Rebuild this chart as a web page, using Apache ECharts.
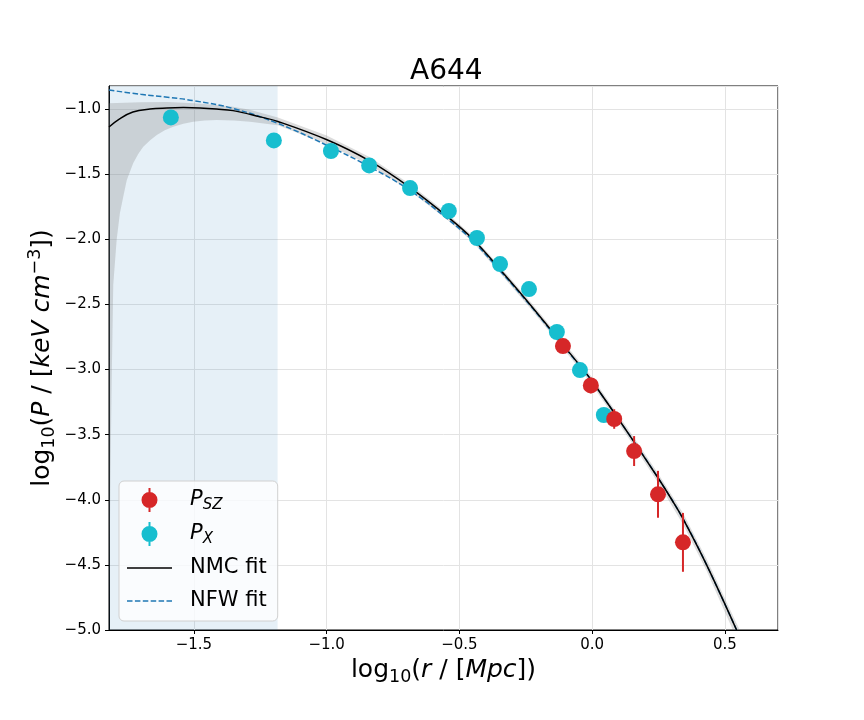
<!DOCTYPE html>
<html><head><meta charset="utf-8">
<script src="https://cdn.jsdelivr.net/npm/echarts@6/dist/echarts.min.js"></script>
<style>html,body{margin:0;padding:0;background:#fff}#c{width:864px;height:720px}</style>
</head><body><div id="c"></div>
<script>
// ---- data ----
const pxX = [-1.587,-1.199,-0.984,-0.840,-0.686,-0.540,-0.434,-0.347,-0.238,-0.133,-0.046,0.044];
const pxY = [-1.064,-1.241,-1.322,-1.433,-1.607,-1.783,-1.990,-2.190,-2.382,-2.712,-3.004,-3.349];

const szX = [-0.110,-0.005,0.083,0.158,0.248,0.342];
const szY = [-2.820,-3.122,-3.380,-3.626,-3.958,-4.327];
const szErr = [0.05,0.06,0.075,0.115,0.18,0.226];

const nmcX = [-1.820,-1.780,-1.730,-1.666,-1.602,-1.540,-1.477,-1.415,-1.353,-1.251,-1.184,-0.999,-0.837,-0.686,-0.540,-0.449,-0.347,-0.234,-0.147,-0.034,0.000,0.136,0.249,0.300,0.342,0.431,0.544];
const nmcY = [-1.138,-1.075,-1.023,-1.000,-0.992,-0.989,-0.992,-1.000,-1.012,-1.060,-1.095,-1.236,-1.400,-1.603,-1.835,-2.000,-2.232,-2.500,-2.718,-3.000,-3.090,-3.490,-3.835,-4.000,-4.145,-4.500,-5.000];

const nfwX = [-1.820,-1.700,-1.600,-1.500,-1.353,-1.184,-1.000,-0.841,-0.686,-0.540,-0.449,-0.347,-0.234,-0.147,-0.034,0.000,0.136,0.249,0.342,0.431,0.544];
const nfwY = [-0.854,-0.887,-0.909,-0.936,-0.995,-1.110,-1.278,-1.440,-1.625,-1.852,-2.013,-2.242,-2.507,-2.724,-3.003,-3.092,-3.490,-3.835,-4.145,-4.500,-5.000];

const bandUpX = [-1.820,-1.700,-1.600,-1.500,-1.415,-1.353,-1.290,-1.184,-1.000,-0.837,-0.686,-0.540,-0.449,-0.347,-0.234,-0.147,-0.034,0.000,0.136,0.249,0.342,0.431,0.544,0.556];
const bandUp  = [-0.955,-0.948,-0.946,-0.955,-0.968,-0.983,-1.005,-1.064,-1.203,-1.370,-1.578,-1.811,-1.977,-2.208,-2.475,-2.693,-2.973,-3.062,-3.458,-3.800,-4.102,-4.455,-4.950,-5.000];
const bandLoX = [-1.820,-1.815,-1.810,-1.804,-1.791,-1.779,-1.765,-1.753,-1.729,-1.710,-1.691,-1.665,-1.640,-1.610,-1.578,-1.540,-1.503,-1.460,-1.415,-1.350,-1.289,-1.184,-1.000,-0.837,-0.686,-0.540,-0.449,-0.347,-0.234,-0.147,-0.034,0.000,0.136,0.249,0.342,0.431,0.530];
const bandLo  = [-5.000,-3.900,-3.100,-2.350,-2.000,-1.800,-1.660,-1.545,-1.417,-1.345,-1.289,-1.240,-1.200,-1.163,-1.136,-1.113,-1.097,-1.088,-1.084,-1.087,-1.097,-1.125,-1.270,-1.430,-1.630,-1.860,-2.023,-2.258,-2.527,-2.744,-3.028,-3.118,-3.522,-3.872,-4.188,-4.545,-5.000];

const shadeRange = [-1.820, -1.185];
const xRange = [-1.820, 0.700];
const yRange = [-5.0, -0.823];
const legendNames = ['P_SZ','P_X','NMC fit','NFW fit'];
const titleText = 'A644';

// ---- chart ----
const FONT = 'DejaVu Sans';
const fmt = v => v.toFixed(1).replace('-', '\u2212');
const markerIcon = 'path://M0,0M45,24M21.5,0h2v24h-2zM22.5,4a8,8 0 1,1 -0.01,0z';
const solidIcon = 'path://M0,0M45,24M0,11.25h45v1.5h-45z';
const dashedIcon = 'path://M0,0M45,24M0,11.25h5.5v1.5h-5.5zM7.9,11.25h5.5v1.5h-5.5zM15.8,11.25h5.5v1.5h-5.5zM23.7,11.25h5.5v1.5h-5.5zM31.6,11.25h5.5v1.5h-5.5zM39.5,11.25h5.5v1.5h-5.5z';

const chart = echarts.init(document.getElementById('c'), null, {renderer: 'canvas'});
const rich25 = {
  n: {fontFamily: FONT, fontSize: 25, lineHeight: 32, color: '#000'},
  i: {fontFamily: FONT, fontSize: 25, lineHeight: 32, fontStyle: 'italic', color: '#000'},
  s: {fontFamily: FONT, fontSize: 17.5, lineHeight: 18, verticalAlign: 'bottom', color: '#000'},
  p: {fontFamily: FONT, fontSize: 17.5, lineHeight: 18, verticalAlign: 'top', color: '#000'}
};
const option = {
  animation: false,
  backgroundColor: '#ffffff',
  title: {
    text: titleText, left: 405, top: 53,
    textStyle: {fontFamily: FONT, fontSize: 28, fontWeight: 'normal', color: '#000'}
  },
  grid: {left: 109, right: 86, top: 86, bottom: 90, show: true, borderColor: '#000', borderWidth: 1, backgroundColor: 'transparent'},
  xAxis: {
    type: 'value', min: xRange[0], max: xRange[1], splitNumber: 5,
    axisLine: {show: true, onZero: false, lineStyle: {color: '#000', width: 1}},
    axisTick: {show: true, inside: false, length: 4, lineStyle: {color: '#000'}},
    axisLabel: {margin: 8, showMinLabel: false, showMaxLabel: false, formatter: fmt, fontFamily: FONT, fontSize: 15, color: '#000'},
    splitLine: {show: true, lineStyle: {color: '#e3e3e3', width: 1}},
    name: '{n|log}{s|10}{n|(}{i|r}{n| / [}{i|Mpc}{n|])}',
    nameLocation: 'middle', nameGap: 22,
    nameTextStyle: {fontFamily: FONT, fontSize: 25, color: '#000', rich: rich25}
  },
  yAxis: {
    type: 'value', min: yRange[0], max: yRange[1], interval: 0.5,
    axisLine: {show: true, onZero: false, lineStyle: {color: '#000', width: 1}},
    axisTick: {show: true, inside: false, length: 4, lineStyle: {color: '#000'}},
    axisLabel: {margin: 8, showMaxLabel: false, formatter: fmt, fontFamily: FONT, fontSize: 15, color: '#000'},
    splitLine: {show: true, lineStyle: {color: '#e3e3e3', width: 1}},
    name: '{n|log}{s|10}{n|(}{i|P}{n| / [}{i|keV cm}{p|\u22123}{n|])}',
    nameLocation: 'middle', nameGap: 51, nameMoveOverlap: false,
    nameTextStyle: {fontFamily: FONT, fontSize: 25, color: '#000', rich: rich25}
  },
  legend: {
    orient: 'vertical', left: 119, top: 481,
    data: [
      {name: legendNames[0], icon: markerIcon},
      {name: legendNames[1], icon: markerIcon},
      {name: legendNames[2], icon: solidIcon},
      {name: legendNames[3], icon: dashedIcon}
    ],
    selectedMode: false,
    itemWidth: 45, itemHeight: 24, itemGap: 9,
    padding: [7, 11, 8, 8],
    backgroundColor: 'rgba(255,255,255,0.8)',
    borderColor: '#d0d0d0', borderWidth: 1, borderRadius: 5,
    formatter: function (name) {
      if (name === 'P_SZ') return '{i|P}{s|SZ}';
      if (name === 'P_X') return '{i|P}{s|X}';
      return '{n|' + name + '}';
    },
    textStyle: {
      fontFamily: FONT, fontSize: 21, color: '#000', padding: [0, 0, 0, 13],
      rich: {
        n: {fontFamily: FONT, fontSize: 21, lineHeight: 26, color: '#000'},
        i: {fontFamily: FONT, fontSize: 21, lineHeight: 26, fontStyle: 'italic', color: '#000'},
        s: {fontFamily: FONT, fontSize: 15, lineHeight: 15, verticalAlign: 'bottom', fontStyle: 'italic', color: '#000'}
      }
    }
  },
  series: [
    {
      name: 'shade', type: 'line', data: [], silent: true, z: 0,
      markArea: {
        silent: true,
        itemStyle: {color: 'rgba(31,119,180,0.11)'},
        data: [[{xAxis: shadeRange[0]}, {xAxis: shadeRange[1]}]]
      }
    },
    {
      name: 'band', type: 'custom', silent: true, z: 1, clip: true,
      data: [[bandUpX[0], bandUp[0]]],
      encode: {x: 0, y: 1},
      renderItem: function (params, api) {
        const pts = [];
        for (let i = 0; i < bandUpX.length; i++) pts.push(api.coord([bandUpX[i], bandUp[i]]));
        for (let i = bandLoX.length - 1; i >= 0; i--) pts.push(api.coord([bandLoX[i], bandLo[i]]));
        return {type: 'polygon', shape: {points: pts}, style: {fill: 'rgba(128,128,128,0.28)', stroke: null}};
      }
    },
    {
      name: 'NFW fit', type: 'line', z: 2, symbol: 'none', smooth: 0.4,
      data: nfwX.map((x, i) => [x, nfwY[i]]),
      itemStyle: {color: '#1f77b4'},
      lineStyle: {color: '#1f77b4', width: 1.5, type: [5.5, 2.4]}
    },
    {
      name: 'NMC fit', type: 'line', z: 3, symbol: 'none', smooth: 0.4,
      data: nmcX.map((x, i) => [x, nmcY[i]]),
      itemStyle: {color: '#000000'},
      lineStyle: {color: '#000000', width: 1.5}
    },
    {
      name: 'P_X', type: 'scatter', z: 4, symbol: 'circle', symbolSize: 16,
      data: pxX.map((x, i) => [x, pxY[i]]),
      itemStyle: {color: '#17becf', opacity: 1}
    },
    {
      name: 'szErr', type: 'custom', z: 5, silent: true,
      data: szX.map((x, i) => [x, szY[i], szErr[i]]),
      encode: {x: 0, y: 1},
      renderItem: function (params, api) {
        const a = api.coord([api.value(0), api.value(1) - api.value(2)]);
        const b = api.coord([api.value(0), api.value(1) + api.value(2)]);
        return {type: 'line', shape: {x1: a[0], y1: a[1], x2: b[0], y2: b[1]}, style: {stroke: '#d62728', lineWidth: 2}};
      }
    },
    {
      name: 'P_SZ', type: 'scatter', z: 6, symbol: 'circle', symbolSize: 16,
      data: szX.map((x, i) => [x, szY[i]]),
      itemStyle: {color: '#d62728', opacity: 1}
    }
  ]
};
chart.setOption(option);
</script>
</body></html>
